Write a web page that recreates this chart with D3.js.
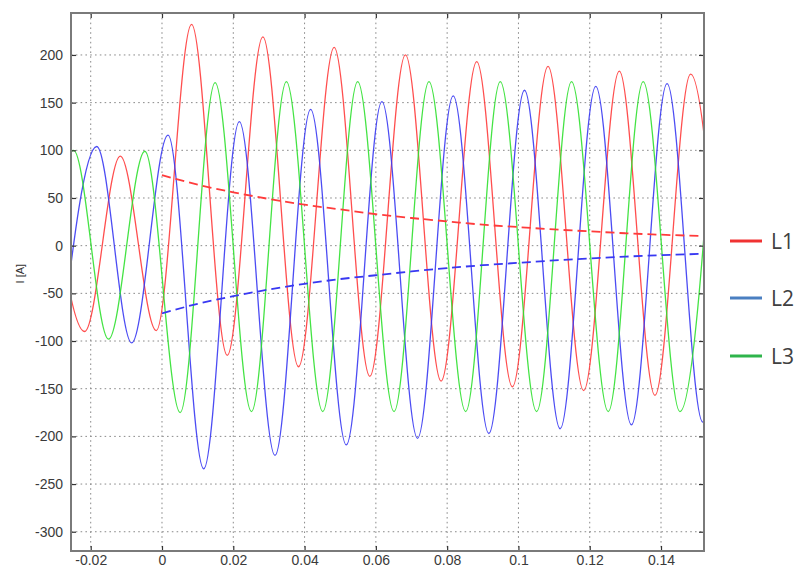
<!DOCTYPE html>
<html>
<head>
<meta charset="utf-8">
<script src="https://cdn.jsdelivr.net/npm/d3@7"></script>
<style>
  html, body { margin: 0; padding: 0; background: #fff; }
  svg { display: block; }
</style>
</head>
<body>
<svg id="chart" width="796" height="569"></svg>
<script>
// ---- tick labels ----
const xTicks = [-0.02, 0, 0.02, 0.04, 0.06, 0.08, 0.1, 0.12, 0.14];
const xTickLabels = ["-0.02", "0", "0.02", "0.04", "0.06", "0.08", "0.1", "0.12", "0.14"];
const yTicks = [-300, -250, -200, -150, -100, -50, 0, 50, 100, 150, 200];
const yTickLabels = ["-300", "-250", "-200", "-150", "-100", "-50", "0", "50", "100", "150", "200"];

// ---- series: extrema (time [s], current [A]) ----
const L1_t = [-0.0317, -0.0217, -0.0117, -0.0016, 0.0083, 0.0183, 0.0283, 0.0383, 0.0483, 0.0583, 0.0683, 0.0783, 0.0883, 0.0983, 0.1083, 0.1183, 0.1283, 0.1383, 0.1483, 0.1583];
const L1_v = [93, -90, 94, -89, 232, -115, 219, -127, 208, -137, 200, -142, 193, -148, 188, -152, 183, -157, 180, -159];

const L2_t = [-0.0283, -0.0183, -0.0085, 0.0017, 0.0117, 0.0217, 0.0317, 0.0417, 0.0517, 0.0617, 0.0717, 0.0817, 0.0917, 0.1017, 0.1117, 0.1217, 0.1317, 0.1417, 0.1517, 0.1617];
const L2_v = [-102, 104, -102, 116, -234, 130, -220, 143, -209, 151, -202, 157, -197, 163, -192, 167, -188, 170, -185, 172];

const L3_t = [-0.0348, -0.0248, -0.0150, -0.0048, 0.0051, 0.0149, 0.0251, 0.0349, 0.0451, 0.0549, 0.0651, 0.0749, 0.0852, 0.0949, 0.1051, 0.1149, 0.1252, 0.1350, 0.1453, 0.1553];
const L3_v = [-98, 100, -98, 99, -175, 171, -174, 172, -174, 172, -174, 172, -174, 172, -174, 172, -174, 172, -174, 172];

// ---- DC components (dashed) ----
const dc_t  = [0, 0.01, 0.02, 0.03, 0.04, 0.05, 0.06, 0.07, 0.08, 0.09, 0.10, 0.11, 0.12, 0.13, 0.14, 0.152];
const dc1_v = [74, 64, 56, 49, 43, 38, 33, 29, 25.5, 22, 19.5, 17, 15, 13, 11.5, 10];
const dc2_v = [-71, -61, -53, -46, -40, -35, -31, -27, -23.5, -20.5, -18, -15.5, -13.5, -11.5, -10, -8.5];

const legendNames = ["L1", "L2", "L3"];

// ---- layout ----
const plot = { left: 71, right: 704, top: 13, bottom: 551 };
const svg = d3.select("#chart");

const x = d3.scaleLinear().domain([-0.02553, 0.15206]).range([plot.left, plot.right]);
const y = d3.scaleLinear().domain([-320.2, 244]).range([plot.bottom, plot.top]);

const waveColors = ["#ff3b3b", "#3838f2", "#30e030"];
const legendColors = ["#f03232", "#4a7fc1", "#2fb44b"];

svg.append("defs").append("clipPath").attr("id", "clip")
  .append("rect")
  .attr("x", plot.left).attr("y", plot.top)
  .attr("width", plot.right - plot.left).attr("height", plot.bottom - plot.top);

// grid
const grid = svg.append("g").attr("stroke", "#8a8a8a").attr("stroke-width", 1)
  .attr("stroke-dasharray", "1.6,3.2");
grid.selectAll("line.gx").data(xTicks).join("line")
  .attr("x1", d => x(d)).attr("x2", d => x(d))
  .attr("y1", plot.top).attr("y2", plot.bottom);
grid.selectAll("line.gy").data(yTicks).join("line")
  .attr("y1", d => y(d)).attr("y2", d => y(d))
  .attr("x1", plot.left).attr("x2", plot.right);

// waves
const line = d3.line().x(d => x(d[0])).y(d => y(d[1])).curve(d3.curveMonotoneX);
const series = [
  d3.zip(L1_t, L1_v),
  d3.zip(L2_t, L2_v),
  d3.zip(L3_t, L3_v)
];
const waves = svg.append("g").attr("clip-path", "url(#clip)");
series.forEach((s, i) => {
  waves.append("path").datum(s)
    .attr("d", line)
    .attr("fill", "none")
    .attr("stroke", waveColors[i])
    .attr("stroke-width", 1.3)
    .attr("stroke-opacity", 0.9);
});

// dashed DC lines
const dcLine = d3.line().x(d => x(d[0])).y(d => y(d[1])).curve(d3.curveMonotoneX);
[[dc1_v, waveColors[0]], [dc2_v, waveColors[1]]].forEach(([v, c]) => {
  waves.append("path").datum(d3.zip(dc_t, v))
    .attr("d", dcLine)
    .attr("fill", "none")
    .attr("stroke", c)
    .attr("stroke-width", 1.8)
    .attr("stroke-dasharray", "9,5");
});

// axes with inward ticks on all four sides
const fontFamily = "'Liberation Sans', Arial, sans-serif";
const xAxisB = d3.axisBottom(x).tickValues(xTicks).tickFormat((d, i) => xTickLabels[i])
  .tickSizeInner(-5).tickSizeOuter(0).tickPadding(4);
const xAxisT = d3.axisTop(x).tickValues(xTicks).tickFormat("").tickSizeInner(-5).tickSizeOuter(0);
const yAxisL = d3.axisLeft(y).tickValues(yTicks).tickFormat((d, i) => yTickLabels[i])
  .tickSizeInner(-5).tickSizeOuter(0).tickPadding(8);
const yAxisR = d3.axisRight(y).tickValues(yTicks).tickFormat("").tickSizeInner(-5).tickSizeOuter(0);

function styleAxis(g) {
  g.select(".domain").remove();
  g.selectAll(".tick line").attr("stroke", "#333").attr("stroke-width", 1.2);
  g.selectAll(".tick text").attr("fill", "#3a3a3a").attr("font-size", 14)
    .attr("font-family", fontFamily);
}
svg.append("g").attr("transform", `translate(0,${plot.bottom})`).call(xAxisB).call(styleAxis);
svg.append("g").attr("transform", `translate(0,${plot.top})`).call(xAxisT).call(styleAxis);
svg.append("g").attr("transform", `translate(${plot.left},0)`).call(yAxisL).call(styleAxis);
svg.append("g").attr("transform", `translate(${plot.right},0)`).call(yAxisR).call(styleAxis);

// frame
svg.append("rect")
  .attr("x", plot.left).attr("y", plot.top)
  .attr("width", plot.right - plot.left).attr("height", plot.bottom - plot.top)
  .attr("fill", "none").attr("stroke", "#7a7a7a").attr("stroke-width", 2);

// y label
svg.append("text")
  .attr("transform", `translate(20,${y(0) + 28}) rotate(-90)`)
  .attr("text-anchor", "middle")
  .attr("dy", "0.35em")
  .attr("font-size", 11)
  .attr("font-family", fontFamily)
  .attr("fill", "#333")
  .text("I [A]");

// legend
const legendY = [241, 298, 356];
const lg = svg.append("g");
legendNames.forEach((n, i) => {
  lg.append("line")
    .attr("x1", 730).attr("x2", 762)
    .attr("y1", legendY[i]).attr("y2", legendY[i])
    .attr("stroke", legendColors[i]).attr("stroke-width", 3);
  lg.append("text")
    .attr("x", 771).attr("y", legendY[i])
    .attr("dy", "0.36em")
    .attr("font-size", 21)
    .attr("font-family", "'Open Sans', 'Noto Sans', sans-serif")
    .attr("fill", "#404040")
    .text(n);
});
</script>
</body>
</html>
